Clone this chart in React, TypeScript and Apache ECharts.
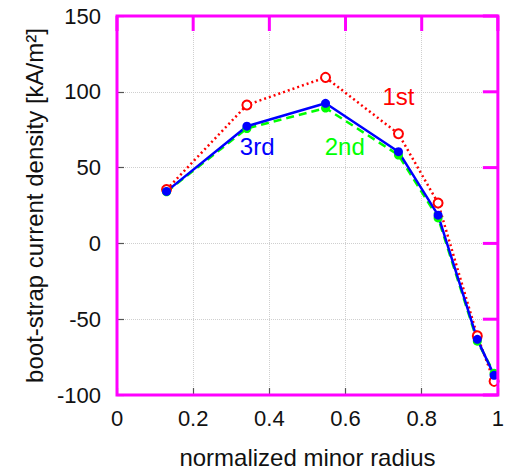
import React, { useEffect, useRef } from "react";
import * as echarts from "echarts";

// normalized minor radius of each evaluation point
const radius = [0.13, 0.341, 0.5475, 0.739, 0.843, 0.946, 0.99];
// boot-strap current density [kA/m^2] after each iteration
const firstIter = [35.5, 91.3, 109.5, 72.3, 26.6, -61.0, -91.0];
const secondIter = [34.0, 75.8, 89.3, 58.3, 16.8, -64.5, -85.6];
const thirdIter = [34.3, 77.3, 92.4, 60.5, 18.6, -63.3, -87.0];

const xTicks = [0, 0.2, 0.4, 0.6, 0.8, 1];
const yTicks = [-100, -50, 0, 50, 100, 150];

// in-plot captions: [text, x, y, colour]
const captions: [string, number, number, string][] = [
  ["1st", 0.739, 97, "#ff0000"],
  ["2nd", 0.598, 64, "#00ff00"],
  ["3rd", 0.368, 64, "#0000ff"],
];

const FONT = "'Liberation Sans', Arial, sans-serif";
const FRAME_COLOR = "#ff00ff";

export default function App() {
  const ref = useRef<HTMLDivElement>(null);

  useEffect(() => {
    if (!ref.current) return;
    const chart = echarts.init(ref.current, undefined, { renderer: "svg" });

    const pairs = (ys: number[]) => radius.map((x, i) => [x, ys[i]]);
    const frame = () => ({ show: true, onZero: false, lineStyle: { color: "#444", width: 1.5 } });
    const tick = () => ({ show: true, inside: true, length: 7, lineStyle: { color: "#555", width: 1.2 } });
    const dotted = () => ({ show: true, lineStyle: { color: "#cfcfcf", type: "dotted" as const, width: 1 } });

    const caption = (i: number) => ({
      symbolSize: 0,
      label: {
        show: true,
        position: "inside",
        color: captions[i][3],
        fontFamily: FONT,
        fontSize: 24,
        formatter: captions[i][0],
      },
      data: [{ coord: [captions[i][1], captions[i][2]] }],
    });

    const xMin = xTicks[0];
    const xMax = xTicks[xTicks.length - 1];
    const yMin = yTicks[0];
    const yMax = yTicks[yTicks.length - 1];

    chart.setOption({
      animation: false,
      grid: { left: 117, right: 8, top: 16, bottom: 75 },
      xAxis: {
        type: "value",
        min: xMin,
        max: xMax,
        interval: 0.2,
        axisLine: frame(),
        axisTick: tick(),
        splitLine: dotted(),
        axisLabel: {
          color: "#111",
          fontFamily: FONT,
          fontSize: 22,
          margin: 12,
          formatter: (v: number) => String(Number(v.toFixed(1))),
        },
        name: "normalized minor radius",
        nameLocation: "middle",
        nameGap: 50,
        nameTextStyle: { color: "#111", fontFamily: FONT, fontSize: 24 },
      },
      yAxis: {
        type: "value",
        min: yMin,
        max: yMax,
        interval: 50,
        axisLine: frame(),
        axisTick: tick(),
        splitLine: dotted(),
        axisLabel: { color: "#111", fontFamily: FONT, fontSize: 22, margin: 16 },
        name: "boot-strap current density [kA/m²]",
        nameLocation: "middle",
        nameRotate: 90,
        nameGap: 71,
        nameTextStyle: { color: "#111", fontFamily: FONT, fontSize: 24 },
      },
      series: [
        {
          name: "1st",
          type: "line",
          data: pairs(firstIter),
          symbol: "emptyCircle",
          symbolSize: 9,
          lineStyle: { color: "#ff0000", width: 2.5, type: [2, 3] },
          itemStyle: { color: "#ff0000", borderColor: "#ff0000", borderWidth: 2 },
          markPoint: caption(0),
        },
        {
          name: "2nd",
          type: "line",
          data: pairs(secondIter),
          symbol: "circle",
          symbolSize: 9,
          lineStyle: { color: "#00ff00", width: 2.5, type: [8, 5] },
          itemStyle: { color: "#00ff00" },
          markPoint: caption(1),
        },
        {
          name: "3rd",
          type: "line",
          data: pairs(thirdIter),
          symbol: "circle",
          symbolSize: 9,
          lineStyle: { color: "#0000ff", width: 2.5 },
          itemStyle: { color: "#0000ff" },
          markPoint: caption(2),
        },
      ],
    });

    // Closed box with inward ticks on the top and right edges, placed through the axes' scales.
    const toPx = (x: number, y: number) => chart.convertToPixel({ gridIndex: 0 }, [x, y]) as number[];
    const [left, top] = toPx(xMin, yMax);
    const [right, bottom] = toPx(xMax, yMin);
    const tickStyle = { stroke: FRAME_COLOR, lineWidth: 3 };
    const topTicks = xTicks.map((v) => {
      const px = toPx(v, yMax)[0];
      return { type: "line", silent: true, z: 60, shape: { x1: px, y1: top, x2: px, y2: top + 15 }, style: tickStyle };
    });
    const rightTicks = yTicks.map((v) => {
      const py = toPx(xMax, v)[1];
      return { type: "line", silent: true, z: 60, shape: { x1: right, y1: py, x2: right - 15, y2: py }, style: tickStyle };
    });

    chart.setOption({
      graphic: [
        {
          type: "rect",
          silent: true,
          z: 50,
          shape: { x: left, y: top, width: right - left, height: bottom - top },
          style: { fill: "none", stroke: FRAME_COLOR, lineWidth: 3 },
        },
        ...topTicks,
        ...rightTicks,
      ],
    });

    return () => chart.dispose();
  }, []);

  return <div ref={ref} style={{ width: 507, height: 474, position: "absolute", left: 0, top: 0 }} />;
}
